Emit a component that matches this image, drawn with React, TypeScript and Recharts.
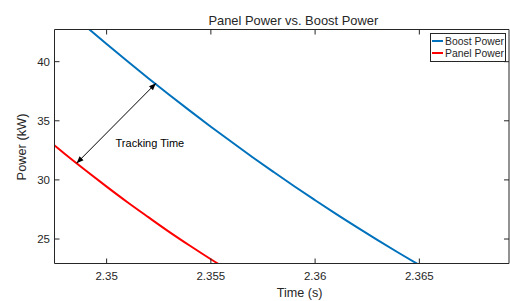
import { LineChart, Line, XAxis, YAxis, ReferenceLine, ReferenceDot, Legend } from "recharts";

const boostTime = [2.349, 2.35, 2.351, 2.352, 2.353, 2.354, 2.355, 2.356, 2.357, 2.358, 2.359, 2.36, 2.361, 2.362, 2.363, 2.364, 2.365];
const boostPower = [42.98, 41.49, 40.03, 38.6, 37.2, 35.84, 34.5, 33.2, 31.92, 30.68, 29.46, 28.28, 27.12, 26.0, 24.91, 23.84, 22.8];
const panelTime = [2.347, 2.348, 2.349, 2.35, 2.351, 2.352, 2.353, 2.354, 2.355, 2.356];
const panelPower = [33.64, 32.19, 30.79, 29.43, 28.11, 26.85, 25.61, 24.43, 23.29, 22.2];

const xTicks = [2.35, 2.355, 2.36, 2.365];
const yTicks = [25, 30, 35, 40];
const xDomain = [2.3475, 2.3693];
const yDomain = [22.93, 42.72];

// "Tracking Time" annotation (data coords)
const arrowFrom = { x: 2.348561, y: 31.41 };
const arrowTo = { x: 2.352364, y: 38.17 };
const noteAt = { x: 2.352076, y: 33.1 };

const AX = "#262626";
const FONT = "'Liberation Sans', Arial, Helvetica, sans-serif";
const BLUE = "#0072BD";
const RED = "#FF0000";

const boostData = boostTime.map((t, i) => ({ t, p: boostPower[i] }));
const panelData = panelTime.map((t, i) => ({ t, p: panelPower[i] }));

/* ── ticks drawn inward, MATLAB style ── */
function BottomTick({ x, y, payload }: any) {
  return (
    <g>
      <line x1={x} x2={x} y1={y} y2={y - 5} stroke={AX} />
      <text x={x} y={y + 16.5} textAnchor="middle" fontSize={11.5} fontFamily={FONT} fill={AX}>
        {payload.value}
      </text>
    </g>
  );
}

function TopTick({ x, y }: any) {
  return <line x1={x} x2={x} y1={y} y2={y + 5} stroke={AX} />;
}

function LeftTick({ x, y, payload }: any) {
  return (
    <g>
      <line x1={x} x2={x + 5} y1={y} y2={y} stroke={AX} />
      <text x={x - 4.5} y={y + 4} textAnchor="end" fontSize={11.5} fontFamily={FONT} fill={AX}>
        {payload.value}
      </text>
    </g>
  );
}

function RightTick({ x, y }: any) {
  return <line x1={x} x2={x - 5} y1={y} y2={y} stroke={AX} />;
}

function head(xa: number, ya: number, xb: number, yb: number) {
  // triangle with tip at (xb, yb)
  const dx = xb - xa;
  const dy = yb - ya;
  const len = Math.hypot(dx, dy) || 1;
  const ux = dx / len;
  const uy = dy / len;
  const L = 7;
  const W = 2.8;
  const bx = xb - ux * L;
  const by = yb - uy * L;
  return `${xb},${yb} ${bx - uy * W},${by + ux * W} ${bx + uy * W},${by - ux * W}`;
}

function DoubleArrow(props: any) {
  const { x1, y1, x2, y2 } = props;
  return (
    <g>
      <line x1={x1} y1={y1} x2={x2} y2={y2} stroke="#000" strokeWidth={1} />
      <polygon points={head(x1, y1, x2, y2)} fill="#000" />
      <polygon points={head(x2, y2, x1, y1)} fill="#000" />
    </g>
  );
}

function NoteText({ cx, cy }: any) {
  return (
    <text x={cx} y={cy + 4} textAnchor="middle" fontSize={11} fontFamily={FONT} fill="#000">
      Tracking Time
    </text>
  );
}

function LegendBox() {
  const items = [
    { name: "Boost Power", color: BLUE },
    { name: "Panel Power", color: RED },
  ];
  return (
    <div
      style={{
        width: 74,
        height: 26,
        border: `1px solid ${AX}`,
        background: "#fff",
        fontFamily: FONT,
        fontSize: 10.4,
        color: AX,
        paddingTop: 1,
      }}
    >
      {items.map((it) => (
        <div key={it.name} style={{ display: "flex", alignItems: "center", height: 12.3, whiteSpace: "nowrap" }}>
          <span style={{ display: "inline-block", width: 11, height: 2, background: it.color, marginLeft: 1, marginRight: 2 }} />
          {it.name}
        </div>
      ))}
    </div>
  );
}

export default function App() {
  return (
    <div style={{ position: "absolute", left: 0, top: 0, width: 510, height: 301, background: "#fff" }}>
      <LineChart width={510} height={301} margin={{ top: 28.5, right: 0, bottom: 0, left: 0 }}>
        <XAxis
          dataKey="t"
          type="number"
          domain={xDomain}
          allowDataOverflow
          ticks={xTicks}
          height={37.5}
          tickSize={0}
          tickMargin={0}
          tickLine={false}
          tick={<BottomTick />}
          axisLine={{ stroke: AX }}
          label={{
            content: ({ viewBox }: any) => (
              <text x={299.7} y={viewBox.y + 33} textAnchor="middle" fontSize={12.6} fontFamily={FONT} fill={AX}>
                Time (s)
              </text>
            ),
          }}
        />
        <XAxis
          xAxisId="top"
          dataKey="t"
          orientation="top"
          type="number"
          domain={xDomain}
          allowDataOverflow
          ticks={xTicks}
          height={1}
          tickSize={0}
          tickMargin={0}
          tickLine={false}
          tick={<TopTick />}
          axisLine={{ stroke: AX }}
          label={{
            content: () => (
              <text x={293.3} y={24.5} textAnchor="middle" fontSize={12.9} fontFamily={FONT} fill={AX}>
                Panel Power vs. Boost Power
              </text>
            ),
          }}
        />
        <YAxis
          type="number"
          domain={yDomain}
          allowDataOverflow
          ticks={yTicks}
          width={54.5}
          tickSize={0}
          tickMargin={0}
          tickLine={false}
          tick={<LeftTick />}
          axisLine={{ stroke: AX }}
          label={{
            content: () => (
              <text
                x={25.5}
                y={147}
                transform="rotate(-90 25.5 147)"
                textAnchor="middle"
                fontSize={12.8}
                fontFamily={FONT}
                fill={AX}
              >
                Power (kW)
              </text>
            ),
          }}
        />
        <YAxis
          yAxisId="right"
          orientation="right"
          type="number"
          domain={yDomain}
          allowDataOverflow
          ticks={yTicks}
          width={1}
          tickSize={0}
          tickMargin={0}
          tickLine={false}
          tick={<RightTick />}
          axisLine={{ stroke: AX }}
        />
        <Legend
          layout="horizontal"
          verticalAlign="middle"
          align="center"
          wrapperStyle={{ top: 33, left: 430, width: 76, height: 28 }}
          content={() => <LegendBox />}
        />
        {/* invisible series that keeps the top/right box axes alive */}
        <Line
          xAxisId="top"
          yAxisId="right"
          data={boostData}
          dataKey="p"
          stroke="none"
          dot={false}
          activeDot={false}
          legendType="none"
          isAnimationActive={false}
        />
        <Line
          data={boostData}
          dataKey="p"
          name="Boost Power"
          type="monotone"
          stroke={BLUE}
          strokeWidth={2}
          dot={false}
          isAnimationActive={false}
        />
        <Line
          data={panelData}
          dataKey="p"
          name="Panel Power"
          type="monotone"
          stroke={RED}
          strokeWidth={2}
          dot={false}
          isAnimationActive={false}
        />
        <ReferenceLine segment={[arrowFrom, arrowTo]} shape={<DoubleArrow />} />
        <ReferenceDot x={noteAt.x} y={noteAt.y} r={0} shape={<NoteText />} />
      </LineChart>
    </div>
  );
}
